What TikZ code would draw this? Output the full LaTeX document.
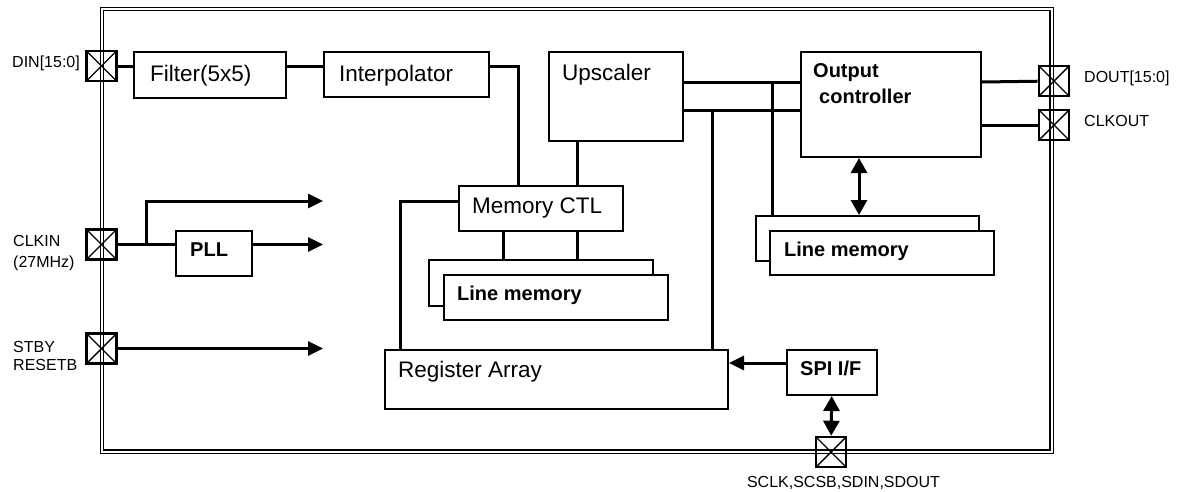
\documentclass[tikz,border=0pt]{standalone}
\usepackage{fontspec}
\setmainfont{Liberation Sans}
\usetikzlibrary{arrows.meta}

\begin{document}
\begin{tikzpicture}[x=1pt,y=-1pt,
        blk/.style={draw, line width=2pt, fill=white, anchor=north west, inner sep=0pt},
        iopad/.style={draw, line width=2.6pt, minimum size=30pt, inner sep=0pt,
          path picture={\draw[line width=1.4pt] (path picture bounding box.north west) -- (path picture bounding box.south east)
            (path picture bounding box.south west) -- (path picture bounding box.north east);}},
        wire/.style={line width=3pt},
        tip/.style={-{Triangle[length=15pt,width=14pt]}},
        both/.style={{Triangle[length=15pt,width=16pt]}-{Triangle[length=15pt,width=16pt]}},
        txt/.style={font=\fontsize{22.5}{26}\selectfont, anchor=base west, inner sep=0pt},
        btxt/.style={font=\fontsize{20}{24}\selectfont\bfseries, anchor=base west, inner sep=0pt},
        lbl/.style={font=\fontsize{16}{19}\selectfont, inner sep=0pt}]
        \path[fill=white] (0,0) rectangle (1180,491);
        % chip frame
        \draw[double, double distance=2pt, line width=1.2pt] (102,9) rectangle (1051.5,451.5);
        % blocks
        \node[blk, minimum width=152pt, minimum height=46pt] (filter) at (133,51) {};
        \node[blk, minimum width=165pt, minimum height=45pt] (interp) at (323,51) {};
        \node[blk, minimum width=134pt, minimum height=89pt] (upsc) at (548,51) {};
        \node[blk, minimum width=164pt, minimum height=45pt] (memctl) at (458,185) {};
        \node[blk, minimum width=224pt, minimum height=46pt] (lmemback) at (428,259) {};
        \node[blk, minimum width=224pt, minimum height=45pt] (lmem) at (443,274) {};
        \node[blk, minimum width=343pt, minimum height=59pt] (regs) at (384,349) {};
        \node[blk, minimum width=180pt, minimum height=105pt] (outc) at (800,51) {};
        \node[blk, minimum width=223pt, minimum height=45pt] (olmemback) at (755,215) {};
        \node[blk, minimum width=224pt, minimum height=44pt] (olmem) at (769,230) {};
        \node[blk, minimum width=76pt, minimum height=45pt] (pll) at (175,230) {};
        \node[blk, minimum width=90pt, minimum height=45pt] (spi) at (786,349) {};
        % pads
        \node[iopad] (din) at (101.5,66) {};
        \node[iopad] (clkin) at (101.5,244.5) {};
        \node[iopad] (stby) at (101.5,348.5) {};
        \node[iopad] (dout) at (1054,81) {};
        \node[iopad] (clkout) at (1054,125) {};
        \node[iopad] (sio) at (831,452) {};
        % tap points
        \coordinate (xI) at (518,0);
        \coordinate (xM) at (503,0);
        \coordinate (xU) at (577,0);
        \coordinate (xR) at (400,201);
        \coordinate (busA) at (0,82);
        \coordinate (busB) at (0,110);
        \coordinate (xL) at (772,0);
        \coordinate (xT) at (712,0);
        \coordinate (xO) at (859,0);
        \coordinate (yS) at (0,363);
        \coordinate (split) at (146,244.5);
        \coordinate (clkA) at (323,201);
        \coordinate (clkB) at (323,244.5);
        \coordinate (rstA) at (323,348.5);
        % connections
        \draw[wire] (din) -- (din -| filter.west);
        \draw[wire] (filter.east |- din) -- (interp.west |- din);
        \draw[wire] (interp.east |- din) -| (memctl.north -| xI);
        \draw[wire] (upsc.south -| xU) -- (memctl.north -| xU);
        \draw[wire] (memctl.south -| xU) -- (lmemback.north -| xU);
        \draw[wire] (memctl.south -| xM) -- (lmemback.north -| xM);
        \draw[wire] (memctl.west |- xR) -| (regs.north -| xR);
        \draw[wire] (upsc.east |- busA) -- (outc.west |- busA);
        \draw[wire] (upsc.east |- busB) -- (outc.west |- busB);
        \draw[wire] (xL |- busA) -- (olmemback.north -| xL);
        \draw[wire] (xT |- busB) -- (regs.north -| xT);
        \draw[wire] (outc.east |- busA) -- (dout);
        \draw[wire] (outc.east |- clkout) -- (clkout);
        \draw[wire, both] (outc.south -| xO) -- (olmemback.north -| xO);
        \draw[wire, tip] (spi.west |- yS) -- (regs.east |- yS);
        \draw[wire, both] (spi) -- (sio);
        \draw[wire] (clkin) -- (clkin -| pll.west);
        \draw[wire, tip] (split) |- (clkA);
        \draw[wire, tip] (clkin -| pll.east) -- (clkB);
        \draw[wire, tip] (stby) -- (rstA);
        % block texts
        \node[txt] at (150,81) {Filter(5x5)};
        \node[txt] at (339,81) {Interpolator};
        \node[txt] at (562,80) {Upscaler};
        \node[txt] at (472,213) {Memory CTL};
        \node[txt] at (398,377) {Register Array};
        \node[btxt] at (457,300) {Line memory};
        \node[btxt] at (784,256) {Line memory};
        \node[btxt] at (813,77) {Output};
        \node[btxt] at (819,103) {controller};
        \node[btxt] at (190,256) {PLL};
        \node[btxt] at (800,375) {SPI I/F};
        % pad labels
        \node[lbl, anchor=base east] at (80,67) {DIN[15:0]};
        \node[lbl, anchor=base west] at (13,246) {CLKIN};
        \node[lbl, anchor=base west] at (13,267) {(27MHz)};
        \node[lbl, anchor=base west] at (13,352) {STBY};
        \node[lbl, anchor=base west] at (13,370) {RESETB};
        \node[lbl, anchor=base west] at (1084,82.5) {DOUT[15:0]};
        \node[lbl, anchor=base west] at (1084,126) {CLKOUT};
        \node[lbl, anchor=base] at (843.5,487) {SCLK,SCSB,SDIN,SDOUT};
\end{tikzpicture}
\end{document}
